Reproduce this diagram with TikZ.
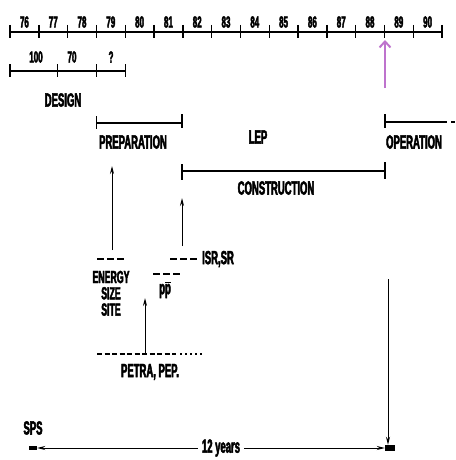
\documentclass[tikz,border=0pt]{standalone}
\usepackage{fontspec}
\usetikzlibrary{arrows.meta, positioning, calc}
\newfontfamily\lepfont[FakeStretch=0.5, FakeBold=2.5]{Liberation Sans}
\definecolor{leppurple}{RGB}{190, 115, 205}

\begin{document}
\begin{tikzpicture}[
    x=1pt, y=-1pt,
    node distance=3.5pt,
    lbl/.style={font=\lepfont\bfseries\fontsize{19}{15.5}\selectfont, inner sep=0pt, align=center},
    sml/.style={font=\lepfont\bfseries\fontsize{17.5}{15}\selectfont, inner sep=0pt},
    yr/.style={font=\lepfont\bfseries\fontsize{16}{16}\selectfont, inner sep=0pt},
    bar/.style={line width=1.8pt},
    tick/.style={line width=1.4pt},
    dsh/.style={line width=2.4pt, dash pattern=on 7pt off 3pt},
    conn/.style={line width=1pt, -{Stealth[length=8pt, width=4pt]}}
]
\useasboundingbox (0,0) rectangle (455,460);

% years axis
\draw[bar] (10,32) -- (442,32);
\foreach \i in {0,...,15}
    \draw[tick] ({10+28.8*\i},25) -- ++(0,13);
\foreach \yy [count=\i from 0] in {76,...,90}
    \node[yr] (y\yy) at ({24.4+28.8*\i},22) {\yy};
\coordinate (now) at (385,40);
\coordinate (nowfoot) at (385,88);
\draw[leppurple, line width=2pt, -{Straight Barb[length=6pt, width=11pt, line width=2pt]}] (nowfoot) -- (now);

% design
\draw[bar] (10,70.7) -- (125.7,70.7);
\foreach \x in {10,57.7,96.7,125.7}
    \draw[tick] (\x,64) -- ++(0,13);
\node[yr] (d100) at (36,57) {100};
\node[yr] (d70) at (72,57) {70};
\node[yr] (dq) at (111,57) {?};
\node[lbl] (design) at (63,100) {DESIGN};

% LEP phases
\draw[bar] (96.7,123) -- (182,123);
\draw[tick] (96.7,116) -- ++(0,13);
\draw[tick] (182,114) -- ++(0,14);
\node[lbl] (prep) at (133,142) {PREPARATION};
\node[lbl] (lep) at (258,137) {LEP};
\draw[bar] (385,122) -- (447,122);
\draw[bar] (451,122) -- (455,122);
\draw[tick] (385,114) -- ++(0,14);
\node[lbl] (oper) at (414,142) {OPERATION};
\draw[bar] (182,171) -- (385,171);
\draw[tick] (182,164) -- ++(0,16);
\draw[tick] (385,162) -- ++(0,17);
\node[lbl] (constr) at (276,188) {CONSTRUCTION};

% inputs
\coordinate (eup) at (112,166);
\coordinate (edown) at (112,250);
\draw[dsh] (97,259) -- (125,259);
\node[sml] (energy) at (111,277) {ENERGY};
\node[sml, below=of energy] (size) {SIZE};
\node[sml, below=of size] (site) {SITE};
\draw[conn] (edown) -- (eup);

\coordinate (iup) at (182,198);
\coordinate (idown) at (182,246);
\draw[dsh] (170,259) -- (198,259);
\node[lbl, anchor=west] (isr) at (202,259) {ISR,SR};
\draw[conn] (idown) -- (iup);

\draw[dsh] (153,274) -- (182,274);
\node[lbl] (ppbar) at (165,290) {p$\overline{\hbox{p}}$};

\coordinate (pup) at (145,298);
\coordinate (pdown) at (145,354);
\draw[dsh, dash pattern=on 5pt off 2.5pt] (97,354) -- (176,354);
\draw[line width=2.2pt, dash pattern=on 2pt off 3pt] (180,354) -- (203,354);
\node[lbl] (petra) at (150,372) {PETRA, PEP.};
\draw[conn] (pdown) -- (pup);

% twelve years
\node[lbl] (sps) at (33,428) {SPS};
\node[fill, inner sep=0pt, minimum width=8pt, minimum height=4pt] (spsbox) at (33,448) {};
\node[fill, inner sep=0pt, minimum width=10pt, minimum height=6pt] (opbox) at (390,448) {};
\node[lbl, outer sep=4pt] (twelve) at (221,448) {12 years};
\draw[conn] (twelve) -- (spsbox);
\draw[conn] (twelve) -- (opbox);
\coordinate (optop) at (388,279);
\draw[conn] (optop) -- (opbox.north -| optop);
\end{tikzpicture}
\end{document}
